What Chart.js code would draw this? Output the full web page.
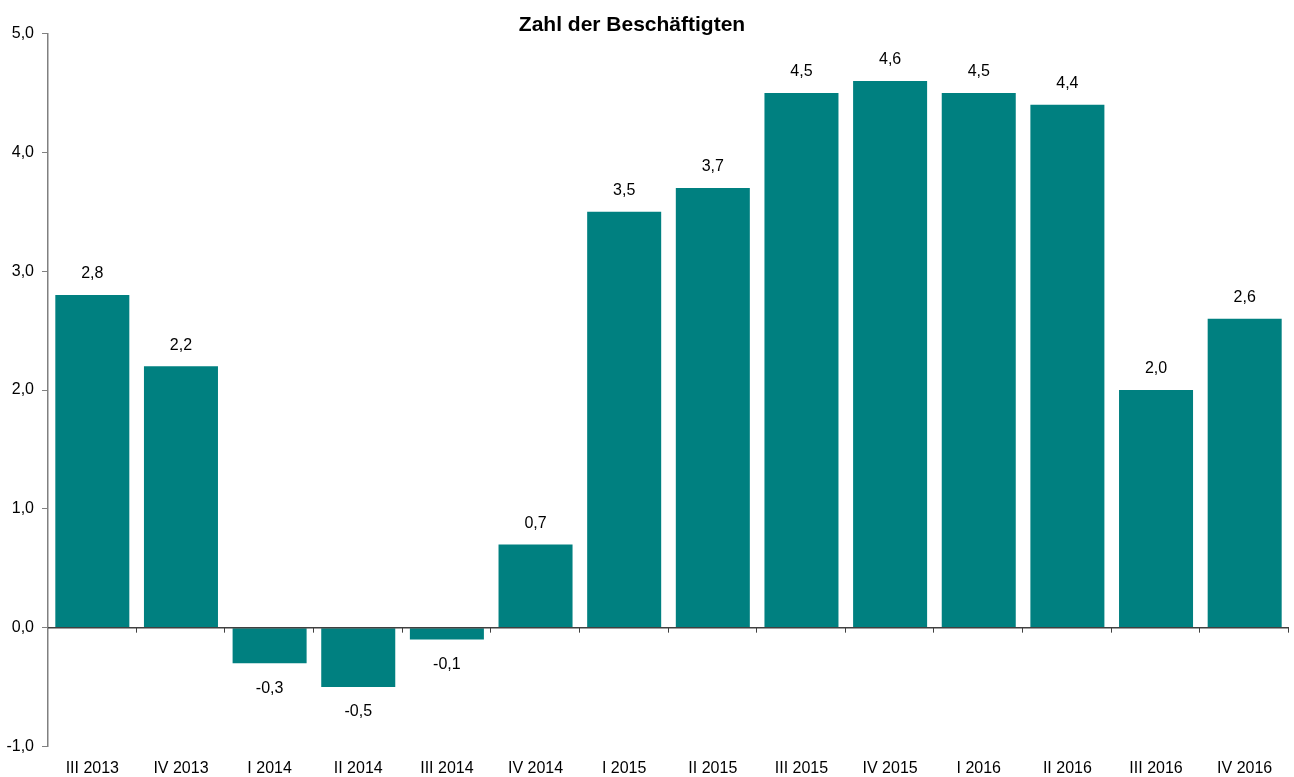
<!DOCTYPE html>
<html>
<head>
<meta charset="utf-8">
<script src="https://cdn.jsdelivr.net/npm/chart.js@4"></script>
<style>
html,body{margin:0;padding:0;background:#fff;}
#wrap{width:1294px;height:777px;}
</style>
</head>
<body>
<div id="wrap"><canvas id="c" width="1294" height="777"></canvas></div>
<script>
const categories = ["III 2013","IV 2013","I 2014","II 2014","III 2014","IV 2014","I 2015","II 2015","III 2015","IV 2015","I 2016","II 2016","III 2016","IV 2016"];
const values = [2.8, 2.2, -0.3, -0.5, -0.1, 0.7, 3.5, 3.7, 4.5, 4.6, 4.5, 4.4, 2.0, 2.6];
const yTicks = [-1, 0, 1, 2, 3, 4, 5];
const title = "Zahl der Beschäftigten";

const FONT = "'Liberation Sans', Arial, sans-serif";
const fmt = v => v.toFixed(1).replace('.', ',');

const overlay = {
  id: 'overlay',
  afterDatasetsDraw(chart) {
    const ctx = chart.ctx;
    const x = chart.scales.x, y = chart.scales.y;
    const ca = chart.chartArea;
    const y0 = y.getPixelForValue(0);
    ctx.save();
    // zero axis line
    ctx.strokeStyle = '#404040';
    ctx.lineWidth = 1.5;
    ctx.beginPath();
    ctx.moveTo(ca.left, y0);
    ctx.lineTo(ca.right, y0);
    ctx.stroke();
    // category boundary ticks
    ctx.lineWidth = 1;
    ctx.beginPath();
    for (let i = 1; i <= categories.length; i++) {
      let bx;
      if (i === categories.length) bx = ca.right;
      else bx = (x.getPixelForValue(i - 1) + x.getPixelForValue(i)) / 2;
      bx = Math.round(bx) - 0.5;
      ctx.moveTo(bx, y0);
      ctx.lineTo(bx, y0 + 5);
    }
    ctx.stroke();
    // value labels
    ctx.fillStyle = '#000';
    ctx.font = '16px ' + FONT;
    ctx.textAlign = 'center';
    ctx.textBaseline = 'middle';
    const meta = chart.getDatasetMeta(0);
    meta.data.forEach((bar, i) => {
      const v = values[i];
      const py = y.getPixelForValue(v);
      const ty = v >= 0 ? py - 21 : py + 25;
      ctx.fillText(fmt(v), bar.x, ty);
    });
    // title
    ctx.font = 'bold 21px ' + FONT;
    ctx.fillText(title, 632, 25);
    ctx.restore();
  }
};

new Chart(document.getElementById('c'), {
  type: 'bar',
  data: {
    labels: categories,
    datasets: [{
      data: values,
      backgroundColor: '#008080',
      borderWidth: 0,
      categoryPercentage: 1.0,
      barPercentage: 0.835
    }]
  },
  options: {
    responsive: false,
    animation: false,
    layout: { padding: { top: 33.5, right: 5, left: 0, bottom: 0 } },
    plugins: { legend: { display: false }, tooltip: { enabled: false }, title: { display: false } },
    scales: {
      x: {
        grid: { display: false, drawTicks: false },
        border: { display: false },
        ticks: { color: '#000', font: { family: FONT, size: 16 }, padding: 12, maxRotation: 0, autoSkip: false },
        afterFit(s) { s.height = 30.5; }
      },
      y: {
        min: -1, max: 5,
        afterBuildTicks(s) { s.ticks = yTicks.map(v => ({ value: v })); },
        grid: { drawOnChartArea: false, drawTicks: true, tickLength: 6, color: '#808080' },
        border: { display: true, color: '#808080', width: 1.5 },
        ticks: { color: '#000', font: { family: FONT, size: 16 }, padding: 8, callback: v => fmt(v) },
        afterFit(s) { s.width = 48; }
      }
    }
  },
  plugins: [overlay]
});
</script>
</body>
</html>
